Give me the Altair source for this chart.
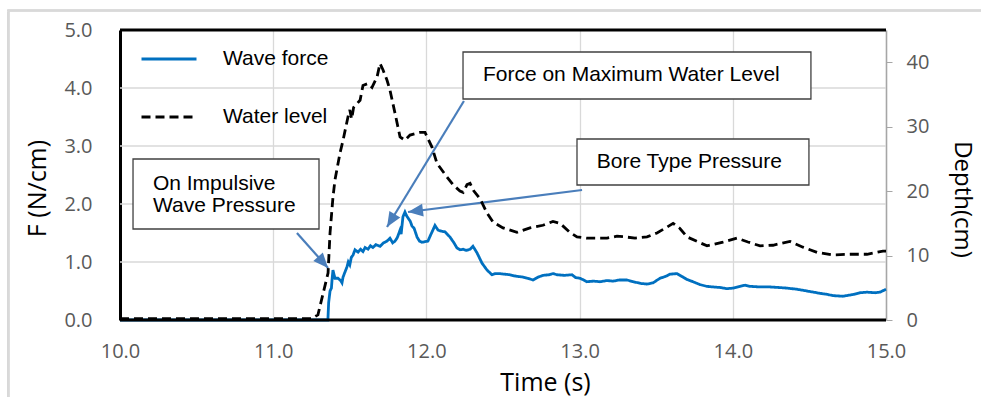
import math
import altair as alt
import pandas as pd

force_t = [10.0, 11.357, 11.362, 11.371, 11.380, 11.384, 11.390, 11.403, 11.423, 11.440, 11.449, 11.456, 11.482, 11.490, 11.500, 11.510, 11.521, 11.534, 11.554, 11.570, 11.586, 11.600, 11.619, 11.635, 11.651, 11.670, 11.697, 11.720, 11.743, 11.762, 11.780, 11.795, 11.810, 11.828, 11.835, 11.847, 11.860, 11.870, 11.880, 11.895, 11.906, 11.920, 11.939, 11.955, 11.971, 11.990, 12.010, 12.025, 12.037, 12.056, 12.076, 12.100, 12.121, 12.154, 12.180, 12.200, 12.220, 12.239, 12.260, 12.285, 12.304, 12.330, 12.363, 12.396, 12.428, 12.450, 12.480, 12.510, 12.546, 12.575, 12.600, 12.631, 12.660, 12.696, 12.730, 12.761, 12.800, 12.826, 12.853, 12.900, 12.950, 12.975, 13.003, 13.048, 13.090, 13.133, 13.180, 13.218, 13.260, 13.309, 13.350, 13.400, 13.440, 13.479, 13.525, 13.560, 13.590, 13.636, 13.675, 13.700, 13.740, 13.786, 13.830, 13.871, 13.920, 13.962, 14.001, 14.047, 14.080, 14.112, 14.178, 14.243, 14.300, 14.354, 14.419, 14.484, 14.569, 14.620, 14.654, 14.719, 14.785, 14.830, 14.876, 14.930, 14.961, 15.000]
force_v = [0, 0, 0.30, 0.50, 0.55, 0.69, 0.86, 0.72, 0.72, 0.68, 0.64, 0.74, 0.92, 1.00, 0.95, 1.08, 1.12, 1.21, 1.17, 1.22, 1.18, 1.25, 1.22, 1.28, 1.25, 1.30, 1.27, 1.33, 1.36, 1.41, 1.33, 1.36, 1.42, 1.55, 1.48, 1.78, 1.86, 1.80, 1.76, 1.70, 1.62, 1.58, 1.43, 1.36, 1.34, 1.35, 1.36, 1.45, 1.52, 1.63, 1.55, 1.53, 1.52, 1.43, 1.33, 1.24, 1.21, 1.22, 1.20, 1.22, 1.27, 1.16, 0.98, 0.86, 0.78, 0.80, 0.80, 0.79, 0.78, 0.76, 0.75, 0.74, 0.72, 0.69, 0.74, 0.77, 0.78, 0.80, 0.78, 0.77, 0.78, 0.73, 0.72, 0.66, 0.67, 0.66, 0.68, 0.67, 0.69, 0.69, 0.66, 0.63, 0.62, 0.64, 0.72, 0.75, 0.79, 0.80, 0.74, 0.70, 0.66, 0.61, 0.58, 0.57, 0.56, 0.54, 0.55, 0.58, 0.60, 0.58, 0.57, 0.57, 0.56, 0.55, 0.53, 0.50, 0.46, 0.44, 0.42, 0.41, 0.44, 0.47, 0.48, 0.47, 0.48, 0.53]

depth_t = [10.0, 11.25, 11.292, 11.358, 11.371, 11.390, 11.403, 11.436, 11.456, 11.488, 11.500, 11.512, 11.525, 11.567, 11.586, 11.619, 11.645, 11.678, 11.697, 11.717, 11.743, 11.762, 11.795, 11.828, 11.860, 11.893, 11.958, 11.991, 12.037, 12.069, 12.134, 12.174, 12.219, 12.240, 12.265, 12.285, 12.310, 12.350, 12.396, 12.435, 12.500, 12.591, 12.676, 12.761, 12.826, 12.872, 12.937, 12.983, 13.048, 13.179, 13.244, 13.296, 13.362, 13.440, 13.505, 13.570, 13.610, 13.655, 13.701, 13.766, 13.832, 13.936, 14.027, 14.099, 14.178, 14.262, 14.373, 14.458, 14.550, 14.654, 14.765, 14.876, 14.980, 15.000]
depth_v = [0.2, 0.2, 0.8, 7.3, 13.5, 19.0, 21.7, 25.9, 27.9, 31.5, 32.6, 31.2, 33.0, 34.1, 36.4, 36.7, 36.1, 37.7, 39.8, 38.8, 37.2, 35.7, 32.1, 28.4, 27.9, 28.7, 29.1, 29.1, 26.8, 24.3, 22.2, 21.0, 20.0, 19.8, 21.0, 21.2, 20.0, 18.8, 16.6, 15.2, 14.3, 13.6, 14.3, 14.7, 15.3, 15.0, 13.6, 12.9, 12.7, 12.7, 13.0, 12.9, 12.7, 12.9, 13.5, 14.4, 15.0, 14.2, 12.9, 12.2, 11.5, 12.1, 12.7, 12.1, 11.5, 11.6, 12.2, 11.3, 10.5, 10.1, 10.2, 10.2, 10.7, 10.7]

series_names = ["Wave force", "Water level"]
x_ticks = [10, 11, 12, 13, 14, 15]
yl_ticks = [0, 1, 2, 3, 4, 5]
yr_ticks = [0, 10, 20, 30, 40]

box_text = [["On Impulsive", "Wave Pressure"], ["Force on Maximum Water Level"], ["Bore Type Pressure"]]
box_t0 = [10.085, 12.239, 12.983]
box_t1 = [11.299, 14.510, 14.497]
box_f0 = [1.569, 3.810, 2.328]
box_f1 = [2.776, 4.621, 3.121]
text_t = [10.215, 12.369, 13.112]
text_f = [2.34, 4.224, 2.729]

arrow_t0 = [11.155, 12.245, 13.016]
arrow_f0 = [1.500, 3.776, 2.241]
arrow_t1 = [11.358, 11.743, 11.880]
arrow_f1 = [0.897, 1.603, 1.862]

assert len(force_t) == len(force_v)
assert len(depth_t) == len(depth_v)

W, H = 766, 290
TICK_FONT = "Open Sans"
TICK_COLOR = "#595959"
ANN_FONT = "Liberation Sans"
BLUE = "#0070C0"
ARROW = "#4A7EBB"
GRID = "#d9d9d9"

force_df = pd.DataFrame({"t": force_t, "F": force_v, "series": series_names[0]})
depth_df = pd.DataFrame({"t": depth_t, "D": depth_v, "series": series_names[1]})

# guide lines: gridlines (kind "grid") and black frame top/bottom (kind "frame")
guide_df = pd.DataFrame({
    "gval": [float(v) for v in yl_ticks],
    "kind": ["frame"] + ["grid"] * (len(yl_ticks) - 2) + ["frame"],
})
guide_df["a"] = float(x_ticks[0])
guide_df["b"] = float(x_ticks[-1])

px_t = W / 5.0
px_f = H / 5.0
angles = []
for a, b, c, d in zip(arrow_t0, arrow_f0, arrow_t1, arrow_f1):
    dx = (c - a) * px_t
    dy = -(d - b) * px_f
    angles.append(math.degrees(math.atan2(dx, -dy)) % 360)
arrow_df = pd.DataFrame({"t0": arrow_t0, "f0": arrow_f0, "t1": arrow_t1, "f1": arrow_f1, "ang": angles})
box_df = pd.DataFrame({"t0": box_t0, "t1": box_t1, "f0": box_f0, "f1": box_f1})
text_df = pd.DataFrame({"t": text_t, "f": text_f, "txt": box_text})

xscale = alt.Scale(domain=[10, 15], nice=False, zero=False)
fscale = alt.Scale(domain=[0, 5], nice=False)
dscale = alt.Scale(domain=[0, 45], nice=False)

legend = alt.Legend(
    orient="none", legendX=20, legendY=0, title=None,
    symbolType="stroke", symbolSize=3025, symbolStrokeWidth=3,
    labelFont=ANN_FONT, labelFontSize=21, labelColor="black",
    labelOffset=25, rowPadding=19, padding=0,
)
color = alt.Color("series:N", scale=alt.Scale(domain=series_names, range=[BLUE, "#000000"]), legend=legend)
dash = alt.StrokeDash("series:N", scale=alt.Scale(domain=series_names, range=[[1, 0], [9, 5]]), legend=legend)

x_axis = alt.Axis(
    values=x_ticks, format=".1f", title="Time (s)", grid=True, gridColor=GRID, gridWidth=1.3,
    ticks=False, tickSize=0, labelPadding=21, labelFlush=False, labelFont=TICK_FONT, labelFontSize=20,
    labelColor=TICK_COLOR, domain=False, titleFont=TICK_FONT, titleFontSize=25, titleColor="black",
    titleFontWeight="normal", titleX=425, titleY=70, titleBaseline="alphabetic", titleAlign="center",
)
yl_axis = alt.Axis(
    values=yl_ticks, format=".1f", title="F (N/cm)", grid=False,
    ticks=False, tickSize=0, labelPadding=28, labelFlush=False, labelFont=TICK_FONT, labelFontSize=20,
    labelColor=TICK_COLOR, domainColor="black", domainWidth=3, titleFont=TICK_FONT, titleFontSize=25,
    titleColor="black", titleFontWeight="normal", titleAngle=270, titleX=-75, titleY=158,
    titleBaseline="alphabetic", titleAlign="center",
)
yr_axis = alt.Axis(
    orient="right", values=yr_ticks, format="d", title="Depth(cm)", grid=False,
    ticks=True, tickSize=6, tickColor="#a6a6a6", labelPadding=14, labelFlush=False, labelFont=TICK_FONT,
    labelFontSize=20, labelColor=TICK_COLOR, domainColor="#a6a6a6", domainWidth=1.5, titleFont=TICK_FONT,
    titleFontSize=24, titleColor="black", titleFontWeight="normal", titleAngle=90, titleX=68, titleY=169,
    titleBaseline="alphabetic", titleAlign="center",
)

X = alt.X("t:Q", scale=xscale, axis=x_axis)

# one rule mark for all horizontal guides; colour/width chosen per kind
guides = alt.Chart(guide_df).mark_rule().encode(
    x=alt.X("a:Q", scale=xscale, axis=x_axis), x2="b:Q",
    y=alt.Y("gval:Q", scale=fscale, axis=yl_axis),
    stroke=alt.Stroke("kind:N", scale=alt.Scale(domain=["grid", "frame"], range=[GRID, "#000000"]), legend=None),
    strokeWidth=alt.StrokeWidth("kind:N", scale=alt.Scale(domain=["grid", "frame"], range=[1.3, 3]), legend=None),
)
grid_only = guides.transform_filter(alt.datum.kind == "grid")
frame_only = guides.transform_filter(alt.datum.kind == "frame")

force_line = alt.Chart(force_df).mark_line(strokeWidth=2.8).encode(
    x=X,
    y=alt.Y("F:Q", scale=fscale, axis=yl_axis),
    color=color, strokeDash=dash, order="t:Q",
)
outer = alt.Chart(force_df).mark_rect(filled=False, stroke=GRID, strokeWidth=1.3).encode(
    x=alt.value(-111.5), x2=alt.value(1000), y=alt.value(-19.5), y2=alt.value(600)
)

depth_line = alt.Chart(depth_df).mark_line(strokeWidth=2.8).encode(
    x=X,
    y=alt.Y("D:Q", scale=dscale, axis=yr_axis),
    color=color, strokeDash=dash, order="t:Q",
)

boxes = alt.Chart(box_df).mark_rect(fill="white", stroke="#404040", strokeWidth=1.3).encode(
    x=alt.X("t0:Q", scale=xscale, axis=x_axis), x2="t1:Q",
    y=alt.Y("f0:Q", scale=fscale, axis=yl_axis), y2="f1:Q",
)
texts = alt.Chart(text_df).mark_text(
    font=ANN_FONT, fontSize=21, align="left", baseline="middle", lineHeight=22, color="black"
).encode(
    x=alt.X("t:Q", scale=xscale, axis=x_axis),
    y=alt.Y("f:Q", scale=fscale, axis=yl_axis),
    text="txt",
)
arrow_lines = alt.Chart(arrow_df).mark_rule(color=ARROW, strokeWidth=2.2).encode(
    x=alt.X("t0:Q", scale=xscale, axis=x_axis), x2="t1:Q",
    y=alt.Y("f0:Q", scale=fscale, axis=yl_axis), y2="f1:Q",
)
arrow_heads = alt.Chart(arrow_df).mark_point(
    shape="M0,0L0.85,2L-0.85,2Z", filled=True, size=225, color=ARROW, opacity=1, strokeWidth=0
).encode(
    x=alt.X("t1:Q", scale=xscale, axis=x_axis),
    y=alt.Y("f1:Q", scale=fscale, axis=yl_axis),
    angle=alt.Angle("ang:Q", scale=None),
)

# force-scale group: everything that uses the F axis, drawn in stacking order
left = alt.layer(outer, grid_only, force_line, boxes, texts, arrow_lines, arrow_heads, frame_only)

chart = alt.layer(left, depth_line).resolve_scale(y="independent").properties(
    width=W, height=H,
    autosize=alt.AutoSizeParams(type="none"),
    padding={"left": 120, "top": 30, "right": 95, "bottom": 77},
    background="white",
).configure_view(stroke=None)

chart.save("out.html", embed_options={"renderer": "svg", "actions": False})
